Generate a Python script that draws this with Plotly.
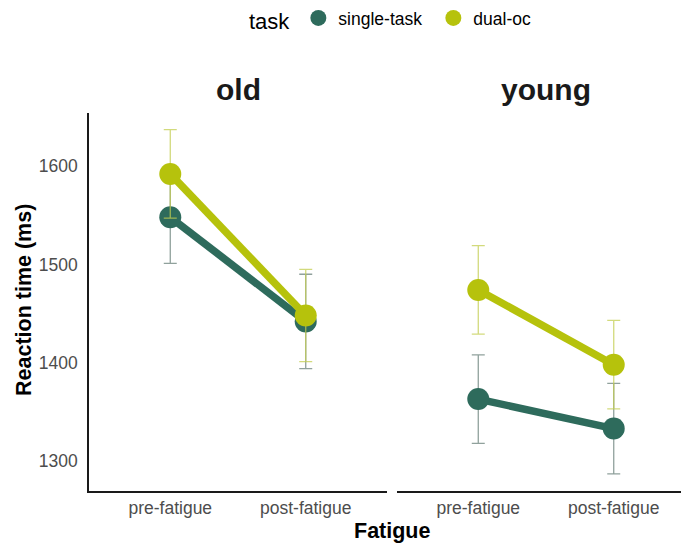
import plotly.graph_objects as go

fatigue = ["pre-fatigue", "post-fatigue"]
groups = ["old", "young"]
tasks = ["single-task", "dual-oc"]

# mean reaction times (ms) per group, task, fatigue level
old_single = [1548, 1442]
old_dual = [1592, 1448]
young_single = [1363, 1333]
young_dual = [1474, 1398]

# error (± ms)
old_single_err = [47, 48]
old_dual_err = [45, 47]
young_single_err = [45, 46]
young_dual_err = [45, 45]

colors = {"single-task": "#2E6B5C", "dual-oc": "#B6C20C"}
err_colors = {"single-task": "rgba(125,145,139,0.85)", "dual-oc": "rgba(195,205,80,0.75)"}

data = {
    "old": {"single-task": (old_single, old_single_err), "dual-oc": (old_dual, old_dual_err)},
    "young": {"single-task": (young_single, young_single_err), "dual-oc": (young_dual, young_dual_err)},
}

FONT = "Liberation Sans, Arial, sans-serif"
fig = go.Figure()
xpos = list(range(len(fatigue)))

for gi, g in enumerate(groups):
    xa = "x" if gi == 0 else "x2"
    for t in tasks:
        vals, errs = data[g][t]
        fig.add_trace(go.Scatter(
            x=xpos, y=vals, xaxis=xa, yaxis="y",
            mode="lines+markers",
            line=dict(color=colors[t], width=7.5),
            marker=dict(color=colors[t], size=22),
            error_y=dict(type="data", array=errs, color=err_colors[t], thickness=1.3, width=6.5),
            showlegend=False, name=t,
        ))

# legend entries
for t in tasks:
    fig.add_trace(go.Scatter(
        x=[None], y=[None], mode="markers", name=t,
        marker=dict(color=colors[t], size=23), showlegend=True,
    ))

W, H = 681, 544
ml, mr, mt, mb = 89, 0, 113, 53
pw = W - ml - mr
ph = H - mt - mb
left_end = (387 - ml) / pw
right_start = (397 - ml) / pw
px_per_unit = (387 - 89) / 2.2
right_range_max = -0.6 + (W - 397) / px_per_unit

axis_common = dict(
    tickvals=xpos, ticktext=fatigue, showgrid=False, zeroline=False,
    showline=True, linecolor="#1a1a1a", linewidth=1.6,
    tickfont=dict(family=FONT, size=17.5, color="#4D4D4D"), ticks="",
    ticklabelstandoff=0,
)

fig.update_layout(
    width=W, height=H,
    margin=dict(l=ml, r=mr, t=mt, b=mb),
    paper_bgcolor="white", plot_bgcolor="white",
    font=dict(family=FONT),
    xaxis=dict(domain=[0, left_end], range=[-0.6, 1.6], **axis_common),
    xaxis2=dict(domain=[right_start, 1], range=[-0.6, right_range_max], anchor="y", **axis_common),
    yaxis=dict(
        range=[1269.5, 1654], tickvals=[1300, 1400, 1500, 1600],
        showgrid=False, zeroline=False, showline=True, linecolor="#1a1a1a", linewidth=1.6,
        tickfont=dict(family=FONT, size=17.5, color="#4D4D4D"), ticks="", ticklabelstandoff=6,
    ),
    legend=dict(
        orientation="h", xref="container", yref="container", x=247 / W, xanchor="left",
        y=1.0, yanchor="top",
        title=dict(text="task", font=dict(family=FONT, size=22, color="black")),
        font=dict(family=FONT, size=17.5, color="black"),
        itemsizing="trace", entrywidth=90,
    ),
    annotations=[
        dict(text="<b>old</b>", xref="x", yref="paper", x=0.5, y=1.0, yshift=5, yanchor="bottom",
             showarrow=False, font=dict(family=FONT, size=30, color="#1a1a1a")),
        dict(text="<b>young</b>", xref="x2", yref="paper", x=0.5, y=1.0, yshift=5, yanchor="bottom",
             showarrow=False, font=dict(family=FONT, size=30, color="#1a1a1a")),
        dict(text="<b>Fatigue</b>", xref="paper", yref="paper", x=(391.5 - ml) / pw, y=-(531 - 491) / ph,
             yanchor="middle", xanchor="center", showarrow=False, font=dict(family=FONT, size=21.5, color="black")),
        dict(text="<b>Reaction time (ms)</b>", xref="paper", yref="paper", x=-(ml - 24) / pw, y=(491 - 300) / ph,
             textangle=-90, xanchor="center", yanchor="middle", showarrow=False,
             font=dict(family=FONT, size=21.5, color="black")),
    ],
)

fig.write_html("out.html")
